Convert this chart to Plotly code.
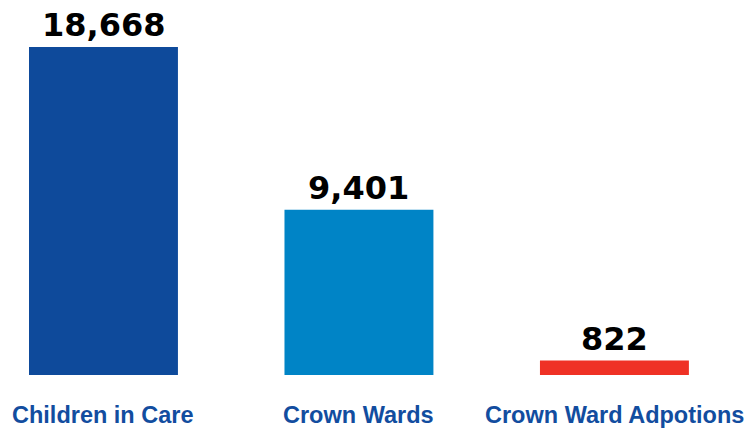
import plotly.graph_objects as go

categories = ["Children in Care", "Crown Wards", "Crown Ward Adpotions"]
values = [18668, 9401, 822]
value_labels = ["18,668", "9,401", "822"]
colors = ["#0e4a9b", "#0084c6", "#ef3125"]

fig = go.Figure()
fig.add_trace(go.Bar(
    x=list(range(len(categories))), y=values,
    marker=dict(color=colors, line=dict(width=0)),
    width=0.583, hoverinfo="skip", cliponaxis=False,
))

for i, (v, lab) in enumerate(zip(values, value_labels)):
    fig.add_annotation(x=i, y=v, text=lab, showarrow=False, xanchor="center",
                       yanchor="bottom", yshift=1,
                       font=dict(family="DejaVu Sans", size=32, color="#000000", weight="bold"))
    fig.add_annotation(x=i, y=0, text=categories[i], showarrow=False, xanchor="center",
                       yanchor="top", yshift=-25,
                       font=dict(family="Liberation Sans, Arial", size=23.5, color="#124d9f", weight="bold"))

fig.update_layout(
    width=746, height=428,
    margin=dict(l=0, r=0, t=47, b=53),
    paper_bgcolor="white", plot_bgcolor="white",
    showlegend=False,
    xaxis=dict(range=[-0.405, 2.515], visible=False),
    yaxis=dict(range=[0, 18668], visible=False),
)
fig.write_html("out.html", config={"displayModeBar": False, "staticPlot": True},
               post_script="document.body.style.margin='0';document.body.style.overflow='hidden';")
